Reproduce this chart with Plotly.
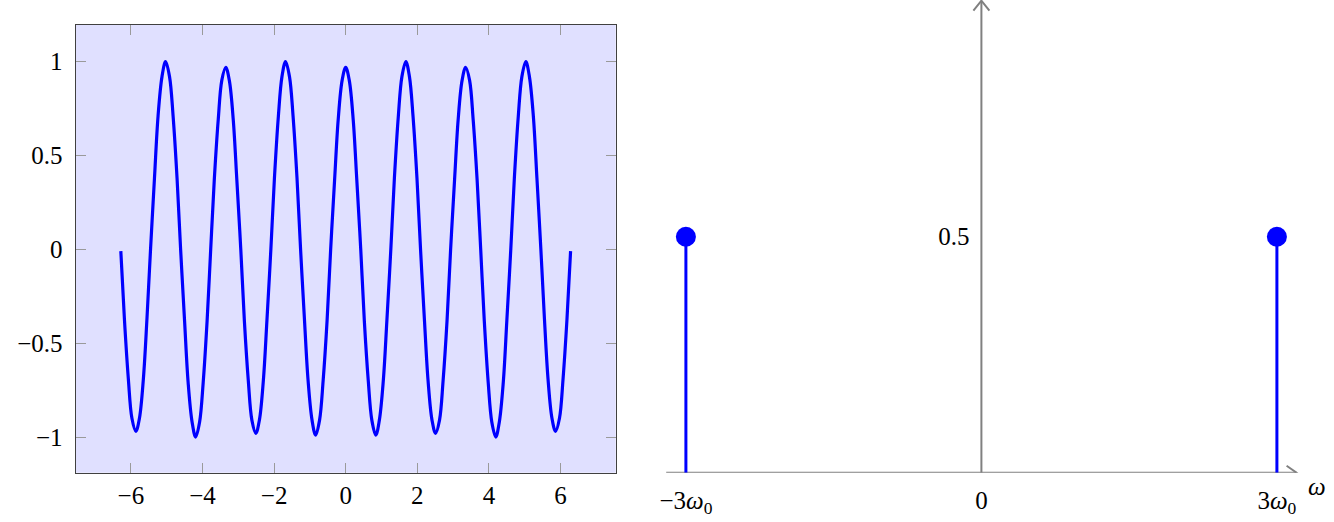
import plotly.graph_objects as go

t_neg = [-6.28, -6.18, -6.07, -5.97, -5.86, -5.76, -5.65, -5.55, -5.45, -5.34,
         -5.24, -5.13, -5.03, -4.92, -4.82, -4.71, -4.61, -4.50, -4.40, -4.29,
         -4.19, -4.08, -3.98, -3.87, -3.77, -3.67, -3.56, -3.46, -3.35, -3.25,
         -3.14, -3.04, -2.93, -2.83, -2.72, -2.62, -2.51, -2.41, -2.30, -2.20,
         -2.09, -1.99, -1.88, -1.78, -1.68, -1.57, -1.47, -1.36, -1.26, -1.15,
         -1.05, -0.94, -0.84, -0.73, -0.63, -0.52, -0.42, -0.31, -0.21, -0.10]
y_neg = [-0.01, -0.37, -0.69, -0.90, -0.97, -0.90, -0.69, -0.37, 0.00, 0.38,
         0.71, 0.92, 1.00, 0.92, 0.71, 0.38, 0.00, -0.38, -0.71, -0.92,
         -1.00, -0.92, -0.71, -0.38, 0.00, 0.37, 0.69, 0.90, 0.97, 0.90,
         0.69, 0.37, 0.00, -0.38, -0.70, -0.91, -0.98, -0.91, -0.70, -0.38,
         0.00, 0.38, 0.71, 0.92, 1.00, 0.92, 0.71, 0.38, 0.00, -0.38,
         -0.70, -0.91, -0.99, -0.91, -0.70, -0.38, 0.00, 0.37, 0.69, 0.90]
t_pos = [0.00, 0.10, 0.21, 0.31, 0.42, 0.52, 0.63, 0.73, 0.84, 0.94,
         1.05, 1.15, 1.26, 1.36, 1.47, 1.57, 1.68, 1.78, 1.88, 1.99,
         2.09, 2.20, 2.30, 2.41, 2.51, 2.62, 2.72, 2.83, 2.93, 3.04,
         3.14, 3.25, 3.35, 3.46, 3.56, 3.67, 3.77, 3.87, 3.98, 4.08,
         4.19, 4.29, 4.40, 4.50, 4.61, 4.71, 4.82, 4.92, 5.03, 5.13,
         5.24, 5.34, 5.45, 5.55, 5.65, 5.76, 5.86, 5.97, 6.07, 6.18, 6.28]
y_pos = [0.97, 0.90, 0.69, 0.37, 0.00, -0.38, -0.70, -0.91, -0.99, -0.91,
         -0.70, -0.38, 0.00, 0.38, 0.71, 0.92, 1.00, 0.92, 0.71, 0.38,
         0.00, -0.38, -0.70, -0.91, -0.98, -0.91, -0.70, -0.38, 0.00, 0.37,
         0.69, 0.90, 0.97, 0.90, 0.69, 0.37, 0.00, -0.38, -0.71, -0.92,
         -1.00, -0.92, -0.71, -0.38, 0.00, 0.38, 0.71, 0.92, 1.00, 0.92,
         0.71, 0.38, 0.00, -0.37, -0.69, -0.90, -0.97, -0.90, -0.69, -0.37, -0.01]
signal_t = t_neg + t_pos
signal_y = y_neg + y_pos

left_xticks = [-6, -4, -2, 0, 2, 4, 6]
left_yticks = [-1, -0.5, 0, 0.5, 1]

# ---- Right panel: spectrum ----
freqs = [-3, 3]
amps = [0.5, 0.5]
freq_tickvals = [-3, 0, 3]
freq_ticktext = ["\u22123<i>\u03c9</i><sub>0</sub>", "0", "3<i>\u03c9</i><sub>0</sub>"]
amp_tickvals = [0.5]
amp_ticktext = ["0.5"]

W, H = 1334, 522
FONT = "Liberation Serif"
BLUE = "#0000ff"
GRAY = "#808080"

fig = go.Figure()

fig.add_trace(go.Scatter(x=signal_t, y=signal_y, mode="lines",
                         line=dict(color=BLUE, width=3.2, shape="spline", smoothing=1.0),
                         xaxis="x", yaxis="y", showlegend=False, hoverinfo="skip"))

# axis lines with open arrow heads for the spectrum panel
px_x = 98.5   # pixels per unit on x2
px_y = 472.0  # pixels per unit on y2
x_lo, x_hi, y_top = -3.2, 3.2, 1.0
ax_x = [x_lo, x_hi, None, x_hi - 10 / px_x, x_hi, x_hi - 10 / px_x]
ax_y = [0, 0, None, 7 / px_y, 0, -7 / px_y]
ay_x = [0, 0, None, -8 / px_x, 0, 8 / px_x]
ay_y = [0, y_top, None, y_top - 10 / px_y, y_top, y_top - 10 / px_y]
fig.add_trace(go.Scatter(x=ax_x + [None] + ay_x, y=ax_y + [None] + ay_y, mode="lines",
                         line=dict(color=GRAY, width=2), xaxis="x2", yaxis="y2",
                         showlegend=False, hoverinfo="skip", cliponaxis=False))

stem_x, stem_y = [], []
for f, a in zip(freqs, amps):
    stem_x += [f, f, None]
    stem_y += [0, a, None]
fig.add_trace(go.Scatter(x=stem_x, y=stem_y, mode="lines",
                         line=dict(color=BLUE, width=3), xaxis="x2", yaxis="y2",
                         showlegend=False, hoverinfo="skip", cliponaxis=False))
fig.add_trace(go.Scatter(x=freqs, y=amps, mode="markers",
                         marker=dict(color=BLUE, size=20), xaxis="x2", yaxis="y2",
                         showlegend=False, hoverinfo="skip", cliponaxis=False))

left_x_dom = [75.7 / W, 615.7 / W]
left_y_dom = [(H - 472.7) / H, (H - 25) / H]
right_x_dom = [640 / W, 1.0]
right_y_dom = [(H - 472.7) / H, 1.0]

tickfont = dict(family=FONT, size=25, color="black")

fig.update_layout(
    width=W, height=H, margin=dict(l=0, r=0, t=0, b=0),
    paper_bgcolor="white", plot_bgcolor="white",
    font=dict(family=FONT, size=25, color="black"),
    xaxis=dict(domain=left_x_dom, range=[-7.54, 7.54], anchor="y",
               tickvals=left_xticks, ticks="inside", ticklen=10, tickcolor="#9a9a9a",
               tickwidth=1, mirror="allticks", showline=True, linecolor="#404040",
               linewidth=1.3, showgrid=False, zeroline=False, tickfont=tickfont,
               ticklabelstandoff=0),
    yaxis=dict(domain=left_y_dom, range=[-1.19, 1.195], anchor="x",
               tickvals=left_yticks, ticks="inside", ticklen=10, tickcolor="#9a9a9a",
               tickwidth=1, mirror="allticks", showline=True, linecolor="#404040",
               linewidth=1.3, showgrid=False, zeroline=False, tickfont=tickfont,
               ticklabelstandoff=7),
    xaxis2=dict(domain=right_x_dom, range=[(640 - 981.4) / px_x, (1334 - 981.4) / px_x],
                anchor="y2", tickvals=freq_tickvals, ticktext=freq_ticktext,
                ticks="", showline=False, showgrid=False, zeroline=False,
                tickfont=tickfont, ticklabelstandoff=10),
    yaxis2=dict(domain=right_y_dom, range=[0, 472.7 / px_y], anchor="free",
                position=981.4 / W, tickvals=amp_tickvals, ticktext=amp_ticktext,
                ticks="", showline=False, showgrid=False, zeroline=False,
                tickfont=tickfont, ticklabelstandoff=12),
    shapes=[dict(type="rect", xref="x domain", yref="y domain", x0=0, x1=1, y0=0, y1=1,
                 fillcolor="#e0e0ff", line=dict(width=0), layer="below")],
    annotations=[dict(text="<i>\u03c9</i>", x=1317 / W, y=(H - 486) / H, xref="paper",
                      yref="paper", showarrow=False, font=dict(family=FONT, size=25),
                      xanchor="center", yanchor="middle")],
)

fig.write_html("out.html", config={"displayModeBar": False},
               post_script="document.body.style.margin='0';document.body.style.overflow='hidden';")
